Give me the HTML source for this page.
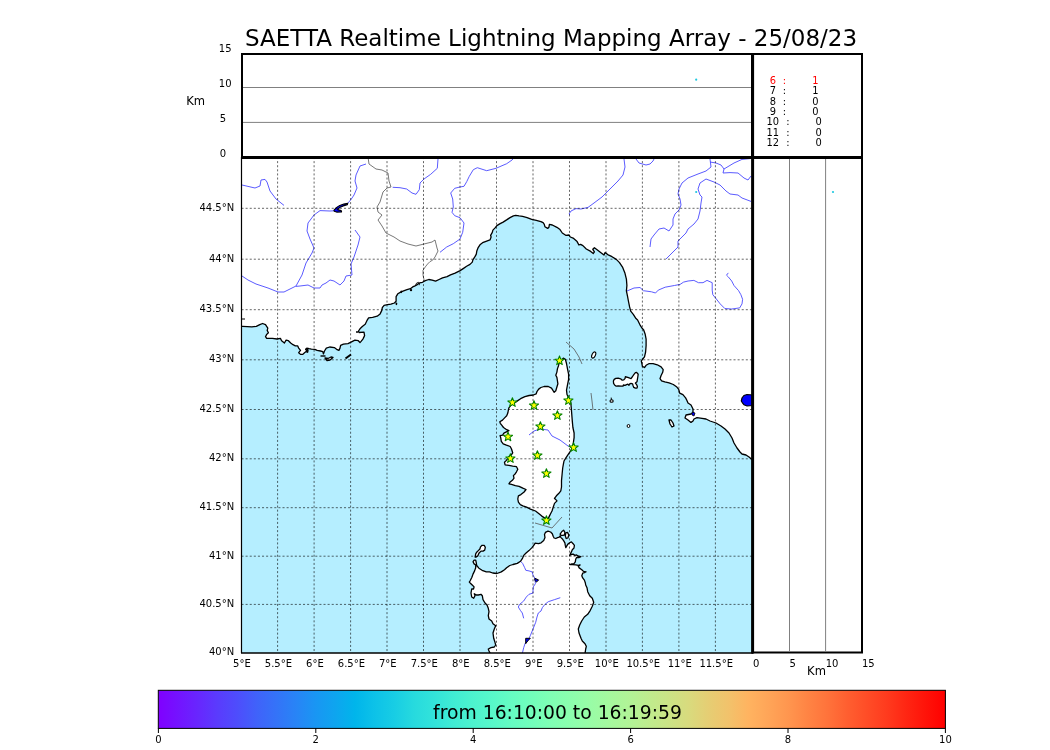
<!DOCTYPE html><html><head><meta charset="utf-8"><title>SAETTA Realtime Lightning Mapping Array</title>
<style>html,body{margin:0;padding:0;background:#fff;}body{width:1050px;height:750px;overflow:hidden;}svg{display:block;will-change:transform;}text{font-family:"DejaVu Sans","Liberation Sans",sans-serif;}</style></head><body>
<svg width="1050" height="750" viewBox="0 0 1050 750">
<rect width="1050" height="750" fill="#fff"/>
<defs><linearGradient id="cb" x1="0" x2="1" y1="0" y2="0">
<stop offset="0.000" stop-color="rgb(128,0,255)"/>
<stop offset="0.025" stop-color="rgb(116,19,255)"/>
<stop offset="0.050" stop-color="rgb(104,38,254)"/>
<stop offset="0.075" stop-color="rgb(90,59,253)"/>
<stop offset="0.100" stop-color="rgb(78,77,252)"/>
<stop offset="0.125" stop-color="rgb(64,98,250)"/>
<stop offset="0.150" stop-color="rgb(52,115,248)"/>
<stop offset="0.175" stop-color="rgb(40,132,246)"/>
<stop offset="0.200" stop-color="rgb(25,150,243)"/>
<stop offset="0.225" stop-color="rgb(14,165,239)"/>
<stop offset="0.250" stop-color="rgb(0,181,235)"/>
<stop offset="0.275" stop-color="rgb(13,194,232)"/>
<stop offset="0.300" stop-color="rgb(24,205,228)"/>
<stop offset="0.325" stop-color="rgb(39,218,222)"/>
<stop offset="0.350" stop-color="rgb(50,227,218)"/>
<stop offset="0.375" stop-color="rgb(64,236,212)"/>
<stop offset="0.400" stop-color="rgb(77,243,206)"/>
<stop offset="0.425" stop-color="rgb(88,248,201)"/>
<stop offset="0.450" stop-color="rgb(102,252,194)"/>
<stop offset="0.475" stop-color="rgb(114,254,187)"/>
<stop offset="0.500" stop-color="rgb(128,255,180)"/>
<stop offset="0.525" stop-color="rgb(140,254,173)"/>
<stop offset="0.550" stop-color="rgb(153,252,166)"/>
<stop offset="0.575" stop-color="rgb(166,248,157)"/>
<stop offset="0.600" stop-color="rgb(178,243,150)"/>
<stop offset="0.625" stop-color="rgb(192,235,141)"/>
<stop offset="0.650" stop-color="rgb(204,227,133)"/>
<stop offset="0.675" stop-color="rgb(217,218,125)"/>
<stop offset="0.700" stop-color="rgb(230,205,115)"/>
<stop offset="0.725" stop-color="rgb(242,194,107)"/>
<stop offset="0.750" stop-color="rgb(255,179,96)"/>
<stop offset="0.775" stop-color="rgb(255,165,88)"/>
<stop offset="0.800" stop-color="rgb(255,150,79)"/>
<stop offset="0.825" stop-color="rgb(255,132,68)"/>
<stop offset="0.850" stop-color="rgb(255,115,59)"/>
<stop offset="0.875" stop-color="rgb(255,95,48)"/>
<stop offset="0.900" stop-color="rgb(255,77,39)"/>
<stop offset="0.925" stop-color="rgb(255,59,30)"/>
<stop offset="0.950" stop-color="rgb(255,38,19)"/>
<stop offset="0.975" stop-color="rgb(255,19,9)"/>
<stop offset="1.000" stop-color="rgb(255,0,0)"/>
</linearGradient>
<clipPath id="mapclip"><rect x="241.5" y="157" width="511" height="496"/></clipPath></defs>
<text x="245" y="46.2" font-size="23px" fill="#000" id="title">SAETTA Realtime Lightning Mapping Array - 25/08/23</text>
<g clip-path="url(#mapclip)">
<rect x="241.5" y="157" width="511" height="496" fill="#b5eeff"/>
<polygon points="241.5,326.4 242.6,326.4 247.2,326.6 251.8,326.9 256.3,326.4 259.8,324.6 262.6,323.5 265.5,324.6 267.8,328.1 267.2,330.4 268.4,332.7 266.7,334.4 265.5,336.7 266.7,338.4 272.4,338.4 277.0,339.0 280.4,338.4 281.6,340.7 284.4,343.0 286.1,340.1 288.4,340.7 290.7,343.0 293.0,344.7 295.3,345.8 297.6,345.8 298.7,348.1 300.5,350.4 298.7,352.7 300.5,354.4 302.8,354.4 304.5,352.7 306.8,351.0 305.6,349.3 306.8,348.1 309.1,348.7 311.4,349.1 314.8,349.3 317.1,350.4 320.5,351.0 322.8,351.6 323.4,353.9 324.5,351.0 326.3,348.1 329.7,347.0 334.3,347.6 336.6,349.3 338.9,350.4 340.0,348.1 340.6,345.3 343.4,344.1 348.0,343.6 351.5,341.8 354.9,340.1 358.3,340.7 360.0,342.5 361.1,341.4 362.9,339.1 364.6,335.6 364.0,332.2 359.0,332.5 358.5,331.0 360.0,328.8 362.3,326.5 365.2,324.2 366.9,320.7 368.6,317.9 372.6,317.3 377.2,316.2 380.1,313.9 381.8,310.4 382.3,307.6 384.1,305.3 387.5,304.7 390.9,304.1 394.4,303.0 396.1,301.3 396.1,296.7 397.8,293.8 400.7,292.1 403.6,290.9 407.0,289.6 410.4,288.7 412.7,286.9 415.0,285.8 417.3,284.6 419.6,282.9 422.5,282.3 425.3,280.6 428.8,279.5 432.2,280.1 435.6,281.2 439.1,279.5 442.5,277.8 447.1,276.6 450.5,274.9 455.1,273.2 459.7,270.9 463.2,268.6 466.6,266.3 470.0,264.4 472.3,262.1 472.9,259.9 475.1,256.4 476.3,254.1 476.9,250.7 478.0,247.9 480.3,244.4 482.6,242.7 486.0,241.3 490.0,239.9 491.1,237.0 490.6,235.3 492.3,232.4 492.9,230.1 495.1,227.9 496.9,225.6 499.7,223.9 503.1,222.1 506.6,219.9 510.0,217.6 513.4,215.9 515.7,215.3 519.1,215.9 522.6,216.4 527.1,217.6 531.7,219.3 536.3,220.4 540.9,221.6 543.1,222.7 544.3,224.4 544.9,226.7 547.7,228.4 548.9,227.3 549.4,224.4 552.3,225.0 556.9,227.3 560.0,229.6 562.3,233.0 565.7,235.3 569.1,235.0 570.3,237.0 573.1,238.1 577.1,241.6 578.9,245.0 580.6,244.4 582.9,245.6 586.3,249.0 590.7,251.4 593.3,253.5 594.4,251.9 592.8,249.3 594.4,247.7 597.1,249.8 601.3,253.0 604.0,255.1 605.1,252.5 607.7,254.6 612.0,256.7 616.3,259.4 619.5,262.6 622.7,267.4 624.8,272.7 626.4,279.1 626.9,285.5 626.4,290.9 627.5,296.2 628.5,301.5 629.6,306.9 630.7,311.1 633.3,314.3 636.0,318.6 637.6,320.0 639.7,324.3 641.9,328.0 643.5,329.6 645.1,333.9 646.1,339.2 646.1,345.6 645.6,352.0 644.5,356.8 642.4,359.5 641.3,361.1 641.9,363.7 642.4,366.4 644.5,367.5 646.1,365.3 648.8,363.7 653.1,363.7 657.3,364.8 661.1,366.9 663.2,369.6 662.7,372.3 661.1,375.5 660.0,378.7 661.6,380.8 664.8,381.9 669.1,382.9 673.3,384.5 676.5,386.7 678.7,389.3 679.7,393.1 682.9,394.7 685.6,397.9 686.7,400.0 688.0,403.0 691.0,405.0 693.0,409.0 693.0,413.0 691.0,414.0 686.0,415.0 685.0,418.0 688.0,420.0 691.0,422.4 693.0,421.0 694.0,419.0 697.0,417.6 702.0,418.4 706.0,419.0 710.0,421.0 716.0,423.0 721.0,426.0 725.0,429.0 729.0,433.0 732.0,438.0 734.0,443.0 737.0,448.0 740.0,452.0 742.0,454.0 746.0,455.0 749.0,457.0 752.0,459.5 753.0,459.5 753.0,156.0 240.0,156.0 240.0,326.4" fill="#fff" stroke="none"/>
<polygon points="563.3,358.2 565.4,359.3 566.5,363.5 567.5,368.9 568.6,374.2 568.6,379.5 567.5,384.9 566.5,390.2 567.0,394.5 568.6,397.7 570.7,401.9 571.3,408.3 571.8,414.7 572.3,421.1 572.9,427.5 574.1,433.0 574.1,437.6 572.8,446.5 571.0,450.3 568.4,454.1 565.9,457.8 564.0,461.0 563.4,464.2 562.7,468.0 562.1,474.3 561.5,480.6 561.5,487.0 560.8,490.8 558.9,493.3 556.4,495.8 554.5,498.4 555.8,499.6 557.0,500.9 554.5,503.4 553.2,507.2 552.0,511.0 550.7,513.5 549.4,516.1 548.2,518.6 546.9,519.9 545.6,518.6 541.8,516.1 538.7,513.5 535.5,511.0 530.4,509.1 526.6,507.2 522.8,505.9 520.3,504.7 518.4,502.2 517.8,499.0 518.4,495.8 520.9,494.6 524.1,492.0 526.0,489.5 522.8,488.2 519.1,486.3 515.3,485.7 511.5,484.4 508.9,483.8 510.2,481.9 512.7,480.0 514.0,478.1 513.4,475.6 515.3,473.7 516.5,471.8 517.8,469.2 516.5,466.7 512.7,466.1 508.9,465.4 505.1,464.8 504.5,462.3 506.4,460.4 507.7,458.5 508.9,456.6 511.5,454.7 512.7,452.8 511.5,449.0 510.2,446.5 506.4,445.2 503.2,443.9 501.3,441.4 500.7,437.6 500.1,435.7 502.6,435.1 503.9,433.2 506.4,431.9 508.9,430.6 506.7,429.7 503.5,427.5 501.9,425.4 500.3,423.3 499.8,421.7 502.5,420.1 504.6,417.9 506.7,415.8 507.8,413.1 508.3,410.5 508.9,407.8 511.0,405.1 513.7,403.5 517.4,400.9 520.6,398.7 524.9,396.6 529.1,395.5 533.4,395.0 536.1,393.9 537.1,391.3 538.7,389.1 540.9,387.5 544.1,386.5 548.3,386.5 551.5,388.1 553.1,390.7 554.2,392.3 555.8,390.7 556.9,387.0 557.9,383.8 557.4,380.6 556.9,377.4 555.8,375.3 556.9,372.1 557.4,368.9 558.5,365.7 559.0,363.5 560.1,361.4" fill="#fff" stroke="none"/>
<polygon points="490.3,653.5 489.0,651.0 488.3,649.0 491.0,647.7 494.3,647.0 495.7,645.0 495.0,642.3 493.7,638.3 493.0,633.0 494.3,629.0 495.7,625.7 493.0,623.7 491.7,621.0 489.0,619.0 488.3,615.7 489.0,611.7 488.3,608.3 487.0,605.0 485.0,603.0 483.0,599.7 482.3,595.7 481.0,594.3 478.3,595.0 476.3,595.0 474.3,593.7 475.0,595.7 473.7,598.3 471.7,597.0 471.0,593.0 471.7,589.0 473.5,589.0 474.1,586.9 472.5,585.3 470.9,583.7 469.3,582.1 470.3,580.5 471.9,577.3 473.0,574.1 474.6,570.9 475.7,567.7 475.7,565.0 474.1,563.9 473.0,561.8 474.1,560.2 475.7,560.2 476.2,562.3 476.7,565.5 478.9,568.2 482.1,570.3 486.3,571.9 489.5,571.9 492.7,573.0 497.0,573.5 501.3,571.9 504.5,569.8 506.6,567.7 509.8,565.5 513.0,564.5 517.3,563.4 520.5,561.3 522.6,558.1 523.7,555.4 525.8,553.3 529.0,550.6 532.2,547.4 534.3,544.7 535.0,543.2 538.5,543.7 541.1,542.8 543.7,540.6 545.0,537.6 544.5,534.6 545.4,532.4 548.0,531.1 550.6,532.0 552.3,533.7 553.2,536.3 554.1,538.0 555.8,538.5 557.5,537.6 559.3,537.2 560.1,535.9 561.0,537.6 562.7,539.3 563.6,540.6 564.9,542.8 565.3,545.4 565.8,547.6 567.1,545.4 567.9,544.1 569.7,542.8 571.4,541.9 573.1,543.7 574.4,545.4 574.0,548.0 572.3,549.7 571.4,551.9 570.5,553.6 569.7,555.4 571.4,554.5 573.1,554.1 574.9,555.4 576.6,554.9 578.3,556.2 580.9,556.7 579.2,557.5 576.6,557.5 575.7,559.3 575.3,561.9 574.0,563.6 571.4,564.0 569.7,564.5 572.3,564.5 575.7,564.9 578.3,565.3 580.1,564.9 578.3,566.2 579.2,567.9 581.8,569.7 583.5,571.4 586.1,571.8 584.4,572.7 582.7,573.1 581.8,575.7 582.7,577.9 584.4,580.1 585.3,582.7 585.7,585.0 587.0,587.7 587.7,591.7 589.7,595.7 592.3,598.3 593.7,602.3 592.3,606.3 590.3,610.3 587.7,614.3 584.3,617.0 581.7,621.0 579.7,625.0 578.3,629.0 579.0,633.0 581.0,638.3 582.3,641.0 585.0,643.7 586.3,646.3 585.7,649.0 585.0,653.5" fill="#fff" stroke="none"/>
<polygon points="613.4,381.0 614.2,379.4 615.8,378.4 618.2,378.2 620.6,378.8 622.2,380.2 623.8,379.8 625.0,378.6 625.4,376.6 626.2,377.0 627.8,377.4 629.8,378.2 631.0,378.6 632.2,377.0 633.8,374.6 635.4,372.6 636.6,372.4 638.2,374.2 637.8,377.0 637.4,379.4 637.0,381.8 635.4,383.0 636.6,384.6 637.4,386.6 637.0,388.2 635.4,388.2 633.8,387.4 633.0,385.4 632.6,383.8 631.0,383.4 629.4,384.2 629.0,385.4 627.8,384.2 626.6,384.6 625.0,385.4 623.4,385.0 623.0,386.2 621.0,386.2 618.2,385.8 616.2,386.2 614.6,385.0 613.6,383.4" fill="#fff" stroke="none"/>
<polygon points="669.0,420.0 671.0,420.0 673.0,423.0 674.0,426.0 672.0,427.0 670.0,424.0" fill="#fff" stroke="none"/>
<polygon points="325.0,358.0 327.0,360.5 330.0,360.0 333.0,357.5 331.0,357.0 328.0,358.5" fill="#fff" stroke="none"/>
<polygon points="475.1,557.0 475.7,553.8 476.7,552.2 478.3,550.6 479.9,549.0 480.5,546.9 482.1,545.3 484.2,545.3 485.3,547.4 484.7,550.1 483.1,551.1 481.0,551.1 478.9,553.3 477.8,555.9 476.2,557.0" fill="#fff" stroke="none"/>
<polygon points="560.1,534.1 561.9,531.5 563.6,530.2 564.9,532.4 564.5,535.0 562.7,535.4 561.0,535.4" fill="#fff" stroke="none"/>
<polygon points="565.8,532.8 567.5,532.4 568.8,535.0 567.9,538.0 566.2,538.5 565.3,535.9" fill="#fff" stroke="none"/>
<polyline points="242.0,185.0 255.0,188.0 260.0,186.0 261.0,180.0 265.0,179.4 267.0,182.0 270.0,191.0 276.0,199.0 284.0,205.4" fill="none" stroke="#4848ff" stroke-width="0.9" stroke-linejoin="round"/>
<polyline points="366.0,164.0 360.0,166.0 356.0,175.0 355.0,181.0 357.0,188.0 354.0,195.0 351.0,199.5 348.0,203.0" fill="none" stroke="#4848ff" stroke-width="0.9" stroke-linejoin="round"/>
<polyline points="334.0,210.8 330.0,211.0 320.0,210.6 314.0,215.0 308.0,223.0 307.0,231.0 310.0,239.0 314.0,248.0 312.0,253.0 306.0,263.0 302.0,275.0 296.0,286.0 290.0,289.0 284.0,292.0 278.0,292.0 268.0,288.0 256.0,284.0 248.0,280.0 242.0,276.0" fill="none" stroke="#4848ff" stroke-width="0.9" stroke-linejoin="round"/>
<polyline points="355.0,230.0 360.0,237.0 358.0,245.0 354.0,257.0 351.0,264.0 352.0,275.0 346.0,276.0 344.0,281.0 340.0,285.0 334.0,281.0 330.0,280.0 326.0,283.0 322.0,285.0 320.0,288.0 314.0,288.0 308.0,285.0 300.0,286.0 296.0,286.4" fill="none" stroke="#4848ff" stroke-width="0.9" stroke-linejoin="round"/>
<polyline points="438.0,159.0 437.3,168.3 430.7,174.3 424.0,179.0 420.0,183.0 419.3,189.7 416.0,194.3 412.0,193.0 406.7,189.0 400.0,187.7 392.7,187.3" fill="none" stroke="#4848ff" stroke-width="0.9" stroke-linejoin="round"/>
<polyline points="514.0,158.0 512.0,160.0 506.7,163.7 496.0,168.3 486.7,170.7 477.3,167.7 473.3,169.7 469.3,176.3 466.7,181.7 464.0,186.3 460.0,187.0 454.7,188.3 450.7,193.0 452.7,199.0 453.3,207.0 452.0,212.3 454.7,215.7 460.0,217.7 464.0,223.0 462.7,232.3 460.0,239.0 453.3,243.7 446.7,247.0 440.0,252.3" fill="none" stroke="#4848ff" stroke-width="0.9" stroke-linejoin="round"/>
<polyline points="624.0,159.0 625.0,167.0 623.0,175.0 618.0,181.0 610.0,189.0 602.0,197.0 594.0,203.0 588.0,207.4 581.0,209.0 576.0,208.6 571.0,211.0 569.0,214.0 570.0,215.0" fill="none" stroke="#4848ff" stroke-width="0.9" stroke-linejoin="round"/>
<polyline points="636.0,159.0 639.0,163.0 646.0,165.0 650.0,164.0 653.0,161.0 654.0,159.0" fill="none" stroke="#4848ff" stroke-width="0.9" stroke-linejoin="round"/>
<polyline points="710.0,159.0 711.0,167.0 706.0,171.0 698.0,174.0 688.0,178.0 682.0,183.0 679.0,189.0 678.0,194.0 680.0,199.0 681.0,205.0 679.0,210.0 675.0,214.0 673.0,219.0 673.0,225.0 669.0,231.0 664.0,228.0 659.0,229.0 654.0,235.0 651.0,239.0 650.0,247.0" fill="none" stroke="#4848ff" stroke-width="0.9" stroke-linejoin="round"/>
<polyline points="710.0,162.0 716.0,163.0 721.0,165.0 724.0,169.0 723.0,173.0 730.0,172.6 738.0,173.0 744.0,178.0 748.0,180.0 751.0,176.0" fill="none" stroke="#4848ff" stroke-width="0.9" stroke-linejoin="round"/>
<polyline points="724.0,169.0 734.0,163.0 742.0,159.4 750.0,158.6" fill="none" stroke="#4848ff" stroke-width="0.9" stroke-linejoin="round"/>
<polyline points="706.0,179.0 700.0,183.0 698.0,189.0 700.0,195.0 702.0,197.0 701.0,203.0 700.0,211.0 698.0,219.0 694.0,224.0 688.0,229.0 686.0,233.0 682.0,237.0 678.0,241.0 678.0,247.0 674.0,251.0 670.0,255.0 666.0,259.0" fill="none" stroke="#4848ff" stroke-width="0.9" stroke-linejoin="round"/>
<polyline points="706.0,179.0 714.0,182.0 720.0,185.0 726.0,191.0 730.0,194.0 738.0,195.0 742.0,198.0 751.0,201.4" fill="none" stroke="#4848ff" stroke-width="0.9" stroke-linejoin="round"/>
<polyline points="627.0,291.0 634.0,288.0 640.0,287.5 643.4,290.7 651.5,291.8 655.5,293.0 658.3,290.1 665.2,287.2 674.4,285.5 680.1,284.4 683.6,282.1 688.1,281.0 693.9,280.4 698.5,282.7 703.0,282.7 707.0,280.4 712.2,282.7 712.2,290.1 712.8,294.7 715.6,298.1 720.2,303.9 724.8,308.5 731.7,309.0 739.7,307.9 742.0,303.9 742.6,299.3 740.9,294.7 738.6,290.7 734.0,285.5 731.7,281.0 728.3,276.9 726.5,275.2 728.3,272.9" fill="none" stroke="#4848ff" stroke-width="0.9" stroke-linejoin="round"/>
<polyline points="529.0,435.0 534.0,431.0 540.0,429.0 548.0,430.0 552.0,436.0 560.0,440.0 568.0,446.0 573.0,448.0" fill="none" stroke="#4848ff" stroke-width="0.9" stroke-linejoin="round"/>
<polyline points="520.5,561.3 522.6,563.4 524.7,567.7 525.8,570.3 529.0,570.9 532.2,571.9 532.7,574.1 533.3,575.7 535.0,578.5 535.4,583.7 533.3,586.9 533.0,590.0 533.0,593.0 529.0,594.3 526.3,597.0 523.7,601.0 519.7,604.3 518.3,607.0 520.3,610.3 522.3,613.0 523.7,618.3" fill="none" stroke="#4848ff" stroke-width="0.9" stroke-linejoin="round"/>
<polyline points="560.3,597.7 554.3,599.7 548.3,601.7 545.0,604.3 542.3,607.7 541.0,611.0 538.3,613.0 537.0,617.0 535.7,622.3 533.0,629.0 530.3,635.7 529.0,638.3 525.0,643.7 523.7,647.7 522.3,653.5" fill="none" stroke="#4848ff" stroke-width="0.9" stroke-linejoin="round"/>
<polyline points="368.0,157.0 369.0,164.0 376.0,169.0 382.0,170.0 388.0,173.0 389.0,181.0 391.0,187.0 387.0,188.0 383.0,192.0 380.0,202.0 377.0,207.0 378.0,212.0 382.0,215.0 378.0,220.0 382.0,226.0 386.0,233.0 394.0,237.0 400.0,241.0 408.0,244.0 416.0,246.0 424.0,244.0 432.0,242.0 435.0,240.0 437.0,248.0 438.0,251.0 435.0,257.0 432.8,260.0 429.9,261.7 427.6,264.0 425.3,266.9 423.0,270.3 423.0,275.0 424.2,280.6" fill="none" stroke="#555" stroke-width="0.8"/>
<polyline points="566.0,342.0 574.0,349.0 579.0,357.0 582.0,364.0" fill="none" stroke="#555" stroke-width="0.8"/>
<polyline points="591.0,393.0 592.0,401.0 593.0,410.0" fill="none" stroke="#555" stroke-width="0.8"/>
<polyline points="535.0,523.0 552.0,528.0 562.0,517.0" fill="none" stroke="#555" stroke-width="0.8"/>
<polyline points="241.5,326.4 242.6,326.4 247.2,326.6 251.8,326.9 256.3,326.4 259.8,324.6 262.6,323.5 265.5,324.6 267.8,328.1 267.2,330.4 268.4,332.7 266.7,334.4 265.5,336.7 266.7,338.4 272.4,338.4 277.0,339.0 280.4,338.4 281.6,340.7 284.4,343.0 286.1,340.1 288.4,340.7 290.7,343.0 293.0,344.7 295.3,345.8 297.6,345.8 298.7,348.1 300.5,350.4 298.7,352.7 300.5,354.4 302.8,354.4 304.5,352.7 306.8,351.0 305.6,349.3 306.8,348.1 309.1,348.7 311.4,349.1 314.8,349.3 317.1,350.4 320.5,351.0 322.8,351.6 323.4,353.9 324.5,351.0 326.3,348.1 329.7,347.0 334.3,347.6 336.6,349.3 338.9,350.4 340.0,348.1 340.6,345.3 343.4,344.1 348.0,343.6 351.5,341.8 354.9,340.1 358.3,340.7 360.0,342.5 361.1,341.4 362.9,339.1 364.6,335.6 364.0,332.2 359.0,332.5 358.5,331.0 360.0,328.8 362.3,326.5 365.2,324.2 366.9,320.7 368.6,317.9 372.6,317.3 377.2,316.2 380.1,313.9 381.8,310.4 382.3,307.6 384.1,305.3 387.5,304.7 390.9,304.1 394.4,303.0 396.1,301.3 396.1,296.7 397.8,293.8 400.7,292.1 403.6,290.9 407.0,289.6 410.4,288.7 412.7,286.9 415.0,285.8 417.3,284.6 419.6,282.9 422.5,282.3 425.3,280.6 428.8,279.5 432.2,280.1 435.6,281.2 439.1,279.5 442.5,277.8 447.1,276.6 450.5,274.9 455.1,273.2 459.7,270.9 463.2,268.6 466.6,266.3 470.0,264.4 472.3,262.1 472.9,259.9 475.1,256.4 476.3,254.1 476.9,250.7 478.0,247.9 480.3,244.4 482.6,242.7 486.0,241.3 490.0,239.9 491.1,237.0 490.6,235.3 492.3,232.4 492.9,230.1 495.1,227.9 496.9,225.6 499.7,223.9 503.1,222.1 506.6,219.9 510.0,217.6 513.4,215.9 515.7,215.3 519.1,215.9 522.6,216.4 527.1,217.6 531.7,219.3 536.3,220.4 540.9,221.6 543.1,222.7 544.3,224.4 544.9,226.7 547.7,228.4 548.9,227.3 549.4,224.4 552.3,225.0 556.9,227.3 560.0,229.6 562.3,233.0 565.7,235.3 569.1,235.0 570.3,237.0 573.1,238.1 577.1,241.6 578.9,245.0 580.6,244.4 582.9,245.6 586.3,249.0 590.7,251.4 593.3,253.5 594.4,251.9 592.8,249.3 594.4,247.7 597.1,249.8 601.3,253.0 604.0,255.1 605.1,252.5 607.7,254.6 612.0,256.7 616.3,259.4 619.5,262.6 622.7,267.4 624.8,272.7 626.4,279.1 626.9,285.5 626.4,290.9 627.5,296.2 628.5,301.5 629.6,306.9 630.7,311.1 633.3,314.3 636.0,318.6 637.6,320.0 639.7,324.3 641.9,328.0 643.5,329.6 645.1,333.9 646.1,339.2 646.1,345.6 645.6,352.0 644.5,356.8 642.4,359.5 641.3,361.1 641.9,363.7 642.4,366.4 644.5,367.5 646.1,365.3 648.8,363.7 653.1,363.7 657.3,364.8 661.1,366.9 663.2,369.6 662.7,372.3 661.1,375.5 660.0,378.7 661.6,380.8 664.8,381.9 669.1,382.9 673.3,384.5 676.5,386.7 678.7,389.3 679.7,393.1 682.9,394.7 685.6,397.9 686.7,400.0 688.0,403.0 691.0,405.0 693.0,409.0 693.0,413.0 691.0,414.0 686.0,415.0 685.0,418.0 688.0,420.0 691.0,422.4 693.0,421.0 694.0,419.0 697.0,417.6 702.0,418.4 706.0,419.0 710.0,421.0 716.0,423.0 721.0,426.0 725.0,429.0 729.0,433.0 732.0,438.0 734.0,443.0 737.0,448.0 740.0,452.0 742.0,454.0 746.0,455.0 749.0,457.0 752.0,459.5" fill="none" stroke="#000" stroke-width="1.3" stroke-linejoin="round"/>
<polyline points="241.5,319 245,319" fill="none" stroke="#000" stroke-width="1.2"/>
<polygon points="563.3,358.2 565.4,359.3 566.5,363.5 567.5,368.9 568.6,374.2 568.6,379.5 567.5,384.9 566.5,390.2 567.0,394.5 568.6,397.7 570.7,401.9 571.3,408.3 571.8,414.7 572.3,421.1 572.9,427.5 574.1,433.0 574.1,437.6 572.8,446.5 571.0,450.3 568.4,454.1 565.9,457.8 564.0,461.0 563.4,464.2 562.7,468.0 562.1,474.3 561.5,480.6 561.5,487.0 560.8,490.8 558.9,493.3 556.4,495.8 554.5,498.4 555.8,499.6 557.0,500.9 554.5,503.4 553.2,507.2 552.0,511.0 550.7,513.5 549.4,516.1 548.2,518.6 546.9,519.9 545.6,518.6 541.8,516.1 538.7,513.5 535.5,511.0 530.4,509.1 526.6,507.2 522.8,505.9 520.3,504.7 518.4,502.2 517.8,499.0 518.4,495.8 520.9,494.6 524.1,492.0 526.0,489.5 522.8,488.2 519.1,486.3 515.3,485.7 511.5,484.4 508.9,483.8 510.2,481.9 512.7,480.0 514.0,478.1 513.4,475.6 515.3,473.7 516.5,471.8 517.8,469.2 516.5,466.7 512.7,466.1 508.9,465.4 505.1,464.8 504.5,462.3 506.4,460.4 507.7,458.5 508.9,456.6 511.5,454.7 512.7,452.8 511.5,449.0 510.2,446.5 506.4,445.2 503.2,443.9 501.3,441.4 500.7,437.6 500.1,435.7 502.6,435.1 503.9,433.2 506.4,431.9 508.9,430.6 506.7,429.7 503.5,427.5 501.9,425.4 500.3,423.3 499.8,421.7 502.5,420.1 504.6,417.9 506.7,415.8 507.8,413.1 508.3,410.5 508.9,407.8 511.0,405.1 513.7,403.5 517.4,400.9 520.6,398.7 524.9,396.6 529.1,395.5 533.4,395.0 536.1,393.9 537.1,391.3 538.7,389.1 540.9,387.5 544.1,386.5 548.3,386.5 551.5,388.1 553.1,390.7 554.2,392.3 555.8,390.7 556.9,387.0 557.9,383.8 557.4,380.6 556.9,377.4 555.8,375.3 556.9,372.1 557.4,368.9 558.5,365.7 559.0,363.5 560.1,361.4" fill="none" stroke="#000" stroke-width="1.3" stroke-linejoin="round"/>
<polygon points="613.4,381.0 614.2,379.4 615.8,378.4 618.2,378.2 620.6,378.8 622.2,380.2 623.8,379.8 625.0,378.6 625.4,376.6 626.2,377.0 627.8,377.4 629.8,378.2 631.0,378.6 632.2,377.0 633.8,374.6 635.4,372.6 636.6,372.4 638.2,374.2 637.8,377.0 637.4,379.4 637.0,381.8 635.4,383.0 636.6,384.6 637.4,386.6 637.0,388.2 635.4,388.2 633.8,387.4 633.0,385.4 632.6,383.8 631.0,383.4 629.4,384.2 629.0,385.4 627.8,384.2 626.6,384.6 625.0,385.4 623.4,385.0 623.0,386.2 621.0,386.2 618.2,385.8 616.2,386.2 614.6,385.0 613.6,383.4" fill="none" stroke="#000" stroke-width="1.3" stroke-linejoin="round"/>
<polygon points="669.0,420.0 671.0,420.0 673.0,423.0 674.0,426.0 672.0,427.0 670.0,424.0" fill="none" stroke="#000" stroke-width="1.3" stroke-linejoin="round"/>
<polygon points="325.0,358.0 327.0,360.5 330.0,360.0 333.0,357.5 331.0,357.0 328.0,358.5" fill="none" stroke="#000" stroke-width="1.3" stroke-linejoin="round"/>
<polygon points="475.1,557.0 475.7,553.8 476.7,552.2 478.3,550.6 479.9,549.0 480.5,546.9 482.1,545.3 484.2,545.3 485.3,547.4 484.7,550.1 483.1,551.1 481.0,551.1 478.9,553.3 477.8,555.9 476.2,557.0" fill="none" stroke="#000" stroke-width="1.3" stroke-linejoin="round"/>
<polygon points="560.1,534.1 561.9,531.5 563.6,530.2 564.9,532.4 564.5,535.0 562.7,535.4 561.0,535.4" fill="none" stroke="#000" stroke-width="1.3" stroke-linejoin="round"/>
<polygon points="565.8,532.8 567.5,532.4 568.8,535.0 567.9,538.0 566.2,538.5 565.3,535.9" fill="none" stroke="#000" stroke-width="1.3" stroke-linejoin="round"/>
<polyline points="490.3,653.5 489.0,651.0 488.3,649.0 491.0,647.7 494.3,647.0 495.7,645.0 495.0,642.3 493.7,638.3 493.0,633.0 494.3,629.0 495.7,625.7 493.0,623.7 491.7,621.0 489.0,619.0 488.3,615.7 489.0,611.7 488.3,608.3 487.0,605.0 485.0,603.0 483.0,599.7 482.3,595.7 481.0,594.3 478.3,595.0 476.3,595.0 474.3,593.7 475.0,595.7 473.7,598.3 471.7,597.0 471.0,593.0 471.7,589.0 473.5,589.0 474.1,586.9 472.5,585.3 470.9,583.7 469.3,582.1 470.3,580.5 471.9,577.3 473.0,574.1 474.6,570.9 475.7,567.7 475.7,565.0 474.1,563.9 473.0,561.8 474.1,560.2 475.7,560.2 476.2,562.3 476.7,565.5 478.9,568.2 482.1,570.3 486.3,571.9 489.5,571.9 492.7,573.0 497.0,573.5 501.3,571.9 504.5,569.8 506.6,567.7 509.8,565.5 513.0,564.5 517.3,563.4 520.5,561.3 522.6,558.1 523.7,555.4 525.8,553.3 529.0,550.6 532.2,547.4 534.3,544.7 535.0,543.2 538.5,543.7 541.1,542.8 543.7,540.6 545.0,537.6 544.5,534.6 545.4,532.4 548.0,531.1 550.6,532.0 552.3,533.7 553.2,536.3 554.1,538.0 555.8,538.5 557.5,537.6 559.3,537.2 560.1,535.9 561.0,537.6 562.7,539.3 563.6,540.6 564.9,542.8 565.3,545.4 565.8,547.6 567.1,545.4 567.9,544.1 569.7,542.8 571.4,541.9 573.1,543.7 574.4,545.4 574.0,548.0 572.3,549.7 571.4,551.9 570.5,553.6 569.7,555.4 571.4,554.5 573.1,554.1 574.9,555.4 576.6,554.9 578.3,556.2 580.9,556.7 579.2,557.5 576.6,557.5 575.7,559.3 575.3,561.9 574.0,563.6 571.4,564.0 569.7,564.5 572.3,564.5 575.7,564.9 578.3,565.3 580.1,564.9 578.3,566.2 579.2,567.9 581.8,569.7 583.5,571.4 586.1,571.8 584.4,572.7 582.7,573.1 581.8,575.7 582.7,577.9 584.4,580.1 585.3,582.7 585.7,585.0 587.0,587.7 587.7,591.7 589.7,595.7 592.3,598.3 593.7,602.3 592.3,606.3 590.3,610.3 587.7,614.3 584.3,617.0 581.7,621.0 579.7,625.0 578.3,629.0 579.0,633.0 581.0,638.3 582.3,641.0 585.0,643.7 586.3,646.3 585.7,649.0 585.0,653.5" fill="none" stroke="#000" stroke-width="1.3" stroke-linejoin="round"/>
<ellipse cx="593.7" cy="355" rx="1.7" ry="3.3" transform="rotate(25 593.7 355)" fill="#fff" stroke="#000" stroke-width="1.1"/>
<ellipse cx="611.6" cy="401" rx="1.6" ry="1.3" fill="#fff" stroke="#000" stroke-width="1.1"/><line x1="611.4" y1="399.8" x2="611.2" y2="397.6" stroke="#000" stroke-width="1"/>
<ellipse cx="628.5" cy="426" rx="1.4" ry="1.5" fill="#fff" stroke="#000" stroke-width="1"/>
<line x1="320.5" y1="356" x2="325.5" y2="356" stroke="#000" stroke-width="1.4"/>
<line x1="345.5" y1="358.5" x2="351" y2="354.5" stroke="#000" stroke-width="2"/>
<line x1="356" y1="332" x2="358" y2="332" stroke="#000" stroke-width="1.5"/>
<ellipse cx="401.3" cy="291.8" rx="0.8" ry="1.4" fill="#000"/>
<ellipse cx="411" cy="290.1" rx="1.2" ry="1.2" fill="#000"/>
<ellipse cx="396.4" cy="303.8" rx="0.9" ry="1.4" fill="#000"/>
<path d="M415.5,285.5 Q416,282.5 418.5,282.3 Q420,283.5 419.2,285.2" fill="none" stroke="#000" stroke-width="0.9"/>
<ellipse cx="307.3" cy="350.5" rx="1.3" ry="2.6" fill="#000"/>
<polygon points="333.9,210.3 336.3,207.6 339.8,205.4 343.8,204.1 347.8,203.2 347.4,204.6 343.2,205.9 339.6,207.6 337.6,209.6 341.2,210.6 341.6,212 336.6,212.1 334.2,211.2" fill="#0000ff" stroke="#000" stroke-width="1.1" stroke-linejoin="round"/>
<polygon points="534.8,578.3 538.6,579.9 536.5,582.1 534.9,580.5" fill="#0000ff" stroke="#000" stroke-width="1"/>
<polygon points="525.7,638.3 530.3,638.3 527.7,641 525.7,643.7" fill="#0000ff" stroke="#000" stroke-width="1"/>
<polygon points="692,412 695,413 694,416 692,415" fill="#0000ff" stroke="#000" stroke-width="0.8"/>
<polygon points="753.0,395.0 747.0,394.5 744.0,395.5 742.0,398.0 741.3,401.0 742.5,403.0 744.0,404.8 747.0,406.0 753.0,405.5" fill="#0000ff" stroke="#000" stroke-width="1.2"/>
<line x1="277.6" y1="157" x2="277.6" y2="653" stroke="#000" stroke-opacity="0.6" stroke-width="1" stroke-dasharray="2.05 2.05"/>
<line x1="314.1" y1="157" x2="314.1" y2="653" stroke="#000" stroke-opacity="0.6" stroke-width="1" stroke-dasharray="2.05 2.05"/>
<line x1="350.6" y1="157" x2="350.6" y2="653" stroke="#000" stroke-opacity="0.6" stroke-width="1" stroke-dasharray="2.05 2.05"/>
<line x1="387.0" y1="157" x2="387.0" y2="653" stroke="#000" stroke-opacity="0.6" stroke-width="1" stroke-dasharray="2.05 2.05"/>
<line x1="423.5" y1="157" x2="423.5" y2="653" stroke="#000" stroke-opacity="0.6" stroke-width="1" stroke-dasharray="2.05 2.05"/>
<line x1="460.0" y1="157" x2="460.0" y2="653" stroke="#000" stroke-opacity="0.6" stroke-width="1" stroke-dasharray="2.05 2.05"/>
<line x1="496.5" y1="157" x2="496.5" y2="653" stroke="#000" stroke-opacity="0.6" stroke-width="1" stroke-dasharray="2.05 2.05"/>
<line x1="533.0" y1="157" x2="533.0" y2="653" stroke="#000" stroke-opacity="0.6" stroke-width="1" stroke-dasharray="2.05 2.05"/>
<line x1="569.5" y1="157" x2="569.5" y2="653" stroke="#000" stroke-opacity="0.6" stroke-width="1" stroke-dasharray="2.05 2.05"/>
<line x1="606.0" y1="157" x2="606.0" y2="653" stroke="#000" stroke-opacity="0.6" stroke-width="1" stroke-dasharray="2.05 2.05"/>
<line x1="642.4" y1="157" x2="642.4" y2="653" stroke="#000" stroke-opacity="0.6" stroke-width="1" stroke-dasharray="2.05 2.05"/>
<line x1="678.9" y1="157" x2="678.9" y2="653" stroke="#000" stroke-opacity="0.6" stroke-width="1" stroke-dasharray="2.05 2.05"/>
<line x1="715.4" y1="157" x2="715.4" y2="653" stroke="#000" stroke-opacity="0.6" stroke-width="1" stroke-dasharray="2.05 2.05"/>
<line x1="241.5" y1="604.4" x2="752" y2="604.4" stroke="#000" stroke-opacity="0.6" stroke-width="1" stroke-dasharray="2.05 2.05"/>
<line x1="241.5" y1="556.2" x2="752" y2="556.2" stroke="#000" stroke-opacity="0.6" stroke-width="1" stroke-dasharray="2.05 2.05"/>
<line x1="241.5" y1="507.7" x2="752" y2="507.7" stroke="#000" stroke-opacity="0.6" stroke-width="1" stroke-dasharray="2.05 2.05"/>
<line x1="241.5" y1="458.8" x2="752" y2="458.8" stroke="#000" stroke-opacity="0.6" stroke-width="1" stroke-dasharray="2.05 2.05"/>
<line x1="241.5" y1="409.5" x2="752" y2="409.5" stroke="#000" stroke-opacity="0.6" stroke-width="1" stroke-dasharray="2.05 2.05"/>
<line x1="241.5" y1="359.8" x2="752" y2="359.8" stroke="#000" stroke-opacity="0.6" stroke-width="1" stroke-dasharray="2.05 2.05"/>
<line x1="241.5" y1="309.7" x2="752" y2="309.7" stroke="#000" stroke-opacity="0.6" stroke-width="1" stroke-dasharray="2.05 2.05"/>
<line x1="241.5" y1="259.2" x2="752" y2="259.2" stroke="#000" stroke-opacity="0.6" stroke-width="1" stroke-dasharray="2.05 2.05"/>
<line x1="241.5" y1="208.3" x2="752" y2="208.3" stroke="#000" stroke-opacity="0.6" stroke-width="1" stroke-dasharray="2.05 2.05"/>
<polygon points="559.5,355.9 560.7,359.0 564.1,359.2 561.4,361.3 562.3,364.6 559.5,362.8 556.7,364.6 557.6,361.3 554.9,359.2 558.3,359.0" fill="#ffff00" stroke="#008000" stroke-width="1.05" stroke-linejoin="round"/>
<polygon points="512.4,397.7 513.6,400.8 517.0,401.0 514.3,403.1 515.2,406.4 512.4,404.6 509.6,406.4 510.5,403.1 507.8,401.0 511.2,400.8" fill="#ffff00" stroke="#008000" stroke-width="1.05" stroke-linejoin="round"/>
<polygon points="534.0,400.7 535.2,403.8 538.6,404.0 535.9,406.1 536.8,409.4 534.0,407.6 531.2,409.4 532.1,406.1 529.4,404.0 532.8,403.8" fill="#ffff00" stroke="#008000" stroke-width="1.05" stroke-linejoin="round"/>
<polygon points="568.4,395.7 569.6,398.8 573.0,399.0 570.3,401.1 571.2,404.4 568.4,402.6 565.6,404.4 566.5,401.1 563.8,399.0 567.2,398.8" fill="#ffff00" stroke="#008000" stroke-width="1.05" stroke-linejoin="round"/>
<polygon points="557.4,410.7 558.6,413.8 562.0,414.0 559.3,416.1 560.2,419.4 557.4,417.6 554.6,419.4 555.5,416.1 552.8,414.0 556.2,413.8" fill="#ffff00" stroke="#008000" stroke-width="1.05" stroke-linejoin="round"/>
<polygon points="540.4,421.7 541.6,424.8 545.0,425.0 542.3,427.1 543.2,430.4 540.4,428.6 537.6,430.4 538.5,427.1 535.8,425.0 539.2,424.8" fill="#ffff00" stroke="#008000" stroke-width="1.05" stroke-linejoin="round"/>
<polygon points="508.0,432.0 509.2,435.1 512.6,435.3 509.9,437.4 510.8,440.7 508.0,438.9 505.2,440.7 506.1,437.4 503.4,435.3 506.8,435.1" fill="#ffff00" stroke="#008000" stroke-width="1.05" stroke-linejoin="round"/>
<polygon points="573.6,442.7 574.8,445.8 578.2,446.0 575.5,448.1 576.4,451.4 573.6,449.6 570.8,451.4 571.7,448.1 569.0,446.0 572.4,445.8" fill="#ffff00" stroke="#008000" stroke-width="1.05" stroke-linejoin="round"/>
<polygon points="510.4,453.7 511.6,456.8 515.0,457.0 512.3,459.1 513.2,462.4 510.4,460.6 507.6,462.4 508.5,459.1 505.8,457.0 509.2,456.8" fill="#ffff00" stroke="#008000" stroke-width="1.05" stroke-linejoin="round"/>
<polygon points="537.4,450.7 538.6,453.8 542.0,454.0 539.3,456.1 540.2,459.4 537.4,457.6 534.6,459.4 535.5,456.1 532.8,454.0 536.2,453.8" fill="#ffff00" stroke="#008000" stroke-width="1.05" stroke-linejoin="round"/>
<polygon points="546.4,468.7 547.6,471.8 551.0,472.0 548.3,474.1 549.2,477.4 546.4,475.6 543.6,477.4 544.5,474.1 541.8,472.0 545.2,471.8" fill="#ffff00" stroke="#008000" stroke-width="1.05" stroke-linejoin="round"/>
<polygon points="546.4,515.7 547.6,518.8 551.0,519.0 548.3,521.1 549.2,524.4 546.4,522.5 543.6,524.4 544.5,521.1 541.8,519.0 545.2,518.8" fill="#ffff00" stroke="#008000" stroke-width="1.05" stroke-linejoin="round"/>
<circle cx="696.2" cy="192" r="1.1" fill="#1ec8e0"/>
</g>
<line x1="241.5" y1="157" x2="241.5" y2="653" stroke="#000" stroke-width="1.2"/>
<line x1="241" y1="653" x2="753" y2="653" stroke="#000" stroke-width="1.6"/>
<rect x="242" y="54" width="510" height="103" fill="none" stroke="#000" stroke-width="2"/>
<line x1="243" y1="87.5" x2="751" y2="87.5" stroke="#808080" stroke-width="1"/>
<line x1="243" y1="122.4" x2="751" y2="122.4" stroke="#808080" stroke-width="1"/>
<circle cx="696.2" cy="79.7" r="1.1" fill="#1ec8e0"/>
<text x="218.8" y="51.8" font-size="10px">15</text>
<text x="218.8" y="87.1" font-size="10px">10</text>
<text x="219.7" y="122.0" font-size="10px">5</text>
<text x="219.7" y="156.6" font-size="10px">0</text>
<text x="195.6" y="104.6" font-size="11.57px" text-anchor="middle">Km</text>
<rect x="753" y="54" width="109" height="103" fill="none" stroke="#000" stroke-width="2"/>
<text x="772.8" y="83.7" font-size="9.9px" fill="#ff0000" text-anchor="middle">6</text>
<text x="784.4" y="83.7" font-size="9.9px" fill="#ff0000" text-anchor="middle">:</text>
<text x="815.5" y="83.7" font-size="9.9px" fill="#ff0000" text-anchor="middle">1</text>
<text x="772.8" y="94.1" font-size="9.9px" fill="#000" text-anchor="middle">7</text>
<text x="784.4" y="94.1" font-size="9.9px" fill="#000" text-anchor="middle">:</text>
<text x="815.5" y="94.1" font-size="9.9px" fill="#000" text-anchor="middle">1</text>
<text x="772.8" y="104.5" font-size="9.9px" fill="#000" text-anchor="middle">8</text>
<text x="784.4" y="104.5" font-size="9.9px" fill="#000" text-anchor="middle">:</text>
<text x="815.5" y="104.5" font-size="9.9px" fill="#000" text-anchor="middle">0</text>
<text x="772.8" y="114.9" font-size="9.9px" fill="#000" text-anchor="middle">9</text>
<text x="784.4" y="114.9" font-size="9.9px" fill="#000" text-anchor="middle">:</text>
<text x="815.5" y="114.9" font-size="9.9px" fill="#000" text-anchor="middle">0</text>
<text x="772.8" y="125.3" font-size="9.9px" fill="#000" text-anchor="middle">10</text>
<text x="788" y="125.3" font-size="9.9px" fill="#000" text-anchor="middle">:</text>
<text x="818.7" y="125.3" font-size="9.9px" fill="#000" text-anchor="middle">0</text>
<text x="772.8" y="135.7" font-size="9.9px" fill="#000" text-anchor="middle">11</text>
<text x="788" y="135.7" font-size="9.9px" fill="#000" text-anchor="middle">:</text>
<text x="818.7" y="135.7" font-size="9.9px" fill="#000" text-anchor="middle">0</text>
<text x="772.8" y="146.1" font-size="9.9px" fill="#000" text-anchor="middle">12</text>
<text x="788" y="146.1" font-size="9.9px" fill="#000" text-anchor="middle">:</text>
<text x="818.7" y="146.1" font-size="9.9px" fill="#000" text-anchor="middle">0</text>
<rect x="753" y="157" width="109" height="495.5" fill="none" stroke="#000" stroke-width="2"/>
<line x1="789.5" y1="158" x2="789.5" y2="652" stroke="#808080" stroke-width="1"/>
<line x1="825.6" y1="158" x2="825.6" y2="652" stroke="#808080" stroke-width="1"/>
<circle cx="833" cy="192" r="1.1" fill="#1ec8e0"/>
<line x1="241" y1="157.5" x2="863" y2="157.5" stroke="#000" stroke-width="3"/>
<line x1="752.6" y1="53" x2="752.6" y2="653.5" stroke="#000" stroke-width="3"/>
<text x="234.2" y="654.8" font-size="10px" text-anchor="end">40°N</text>
<text x="234.2" y="607.0" font-size="10px" text-anchor="end">40.5°N</text>
<text x="234.2" y="558.8" font-size="10px" text-anchor="end">41°N</text>
<text x="234.2" y="510.3" font-size="10px" text-anchor="end">41.5°N</text>
<text x="234.2" y="461.4" font-size="10px" text-anchor="end">42°N</text>
<text x="234.2" y="412.1" font-size="10px" text-anchor="end">42.5°N</text>
<text x="234.2" y="362.4" font-size="10px" text-anchor="end">43°N</text>
<text x="234.2" y="312.3" font-size="10px" text-anchor="end">43.5°N</text>
<text x="234.2" y="261.8" font-size="10px" text-anchor="end">44°N</text>
<text x="234.2" y="210.9" font-size="10px" text-anchor="end">44.5°N</text>
<text x="241.9" y="666.8" font-size="10px" text-anchor="middle">5°E</text>
<text x="278.4" y="666.8" font-size="10px" text-anchor="middle">5.5°E</text>
<text x="314.9" y="666.8" font-size="10px" text-anchor="middle">6°E</text>
<text x="351.4" y="666.8" font-size="10px" text-anchor="middle">6.5°E</text>
<text x="387.8" y="666.8" font-size="10px" text-anchor="middle">7°E</text>
<text x="424.3" y="666.8" font-size="10px" text-anchor="middle">7.5°E</text>
<text x="460.8" y="666.8" font-size="10px" text-anchor="middle">8°E</text>
<text x="497.3" y="666.8" font-size="10px" text-anchor="middle">8.5°E</text>
<text x="533.8" y="666.8" font-size="10px" text-anchor="middle">9°E</text>
<text x="570.3" y="666.8" font-size="10px" text-anchor="middle">9.5°E</text>
<text x="606.8" y="666.8" font-size="10px" text-anchor="middle">10°E</text>
<text x="643.2" y="666.8" font-size="10px" text-anchor="middle">10.5°E</text>
<text x="679.7" y="666.8" font-size="10px" text-anchor="middle">11°E</text>
<text x="716.2" y="666.8" font-size="10px" text-anchor="middle">11.5°E</text>
<text x="753.1" y="666.8" font-size="10px">0</text>
<text x="789.4" y="666.8" font-size="10px">5</text>
<text x="825.7" y="666.8" font-size="10px">10</text>
<text x="862.0" y="666.8" font-size="10px">15</text>
<text x="816.5" y="675.3" font-size="11.57px" text-anchor="middle">Km</text>
<rect x="158.3" y="690.3" width="787.1" height="38.1" fill="url(#cb)" stroke="#000" stroke-width="1"/>
<line x1="158.4" y1="728.3" x2="158.4" y2="733" stroke="#000" stroke-width="1"/>
<text x="158.4" y="743.2" font-size="10px" text-anchor="middle">0</text>
<line x1="315.8" y1="728.3" x2="315.8" y2="733" stroke="#000" stroke-width="1"/>
<text x="315.8" y="743.2" font-size="10px" text-anchor="middle">2</text>
<line x1="473.2" y1="728.3" x2="473.2" y2="733" stroke="#000" stroke-width="1"/>
<text x="473.2" y="743.2" font-size="10px" text-anchor="middle">4</text>
<line x1="630.6" y1="728.3" x2="630.6" y2="733" stroke="#000" stroke-width="1"/>
<text x="630.6" y="743.2" font-size="10px" text-anchor="middle">6</text>
<line x1="788.0" y1="728.3" x2="788.0" y2="733" stroke="#000" stroke-width="1"/>
<text x="788.0" y="743.2" font-size="10px" text-anchor="middle">8</text>
<line x1="945.4" y1="728.3" x2="945.4" y2="733" stroke="#000" stroke-width="1"/>
<text x="945.4" y="743.2" font-size="10px" text-anchor="middle">10</text>
<text x="557.5" y="718.7" font-size="18.75px" text-anchor="middle">from 16:10:00 to 16:19:59</text>
</svg></body></html>
